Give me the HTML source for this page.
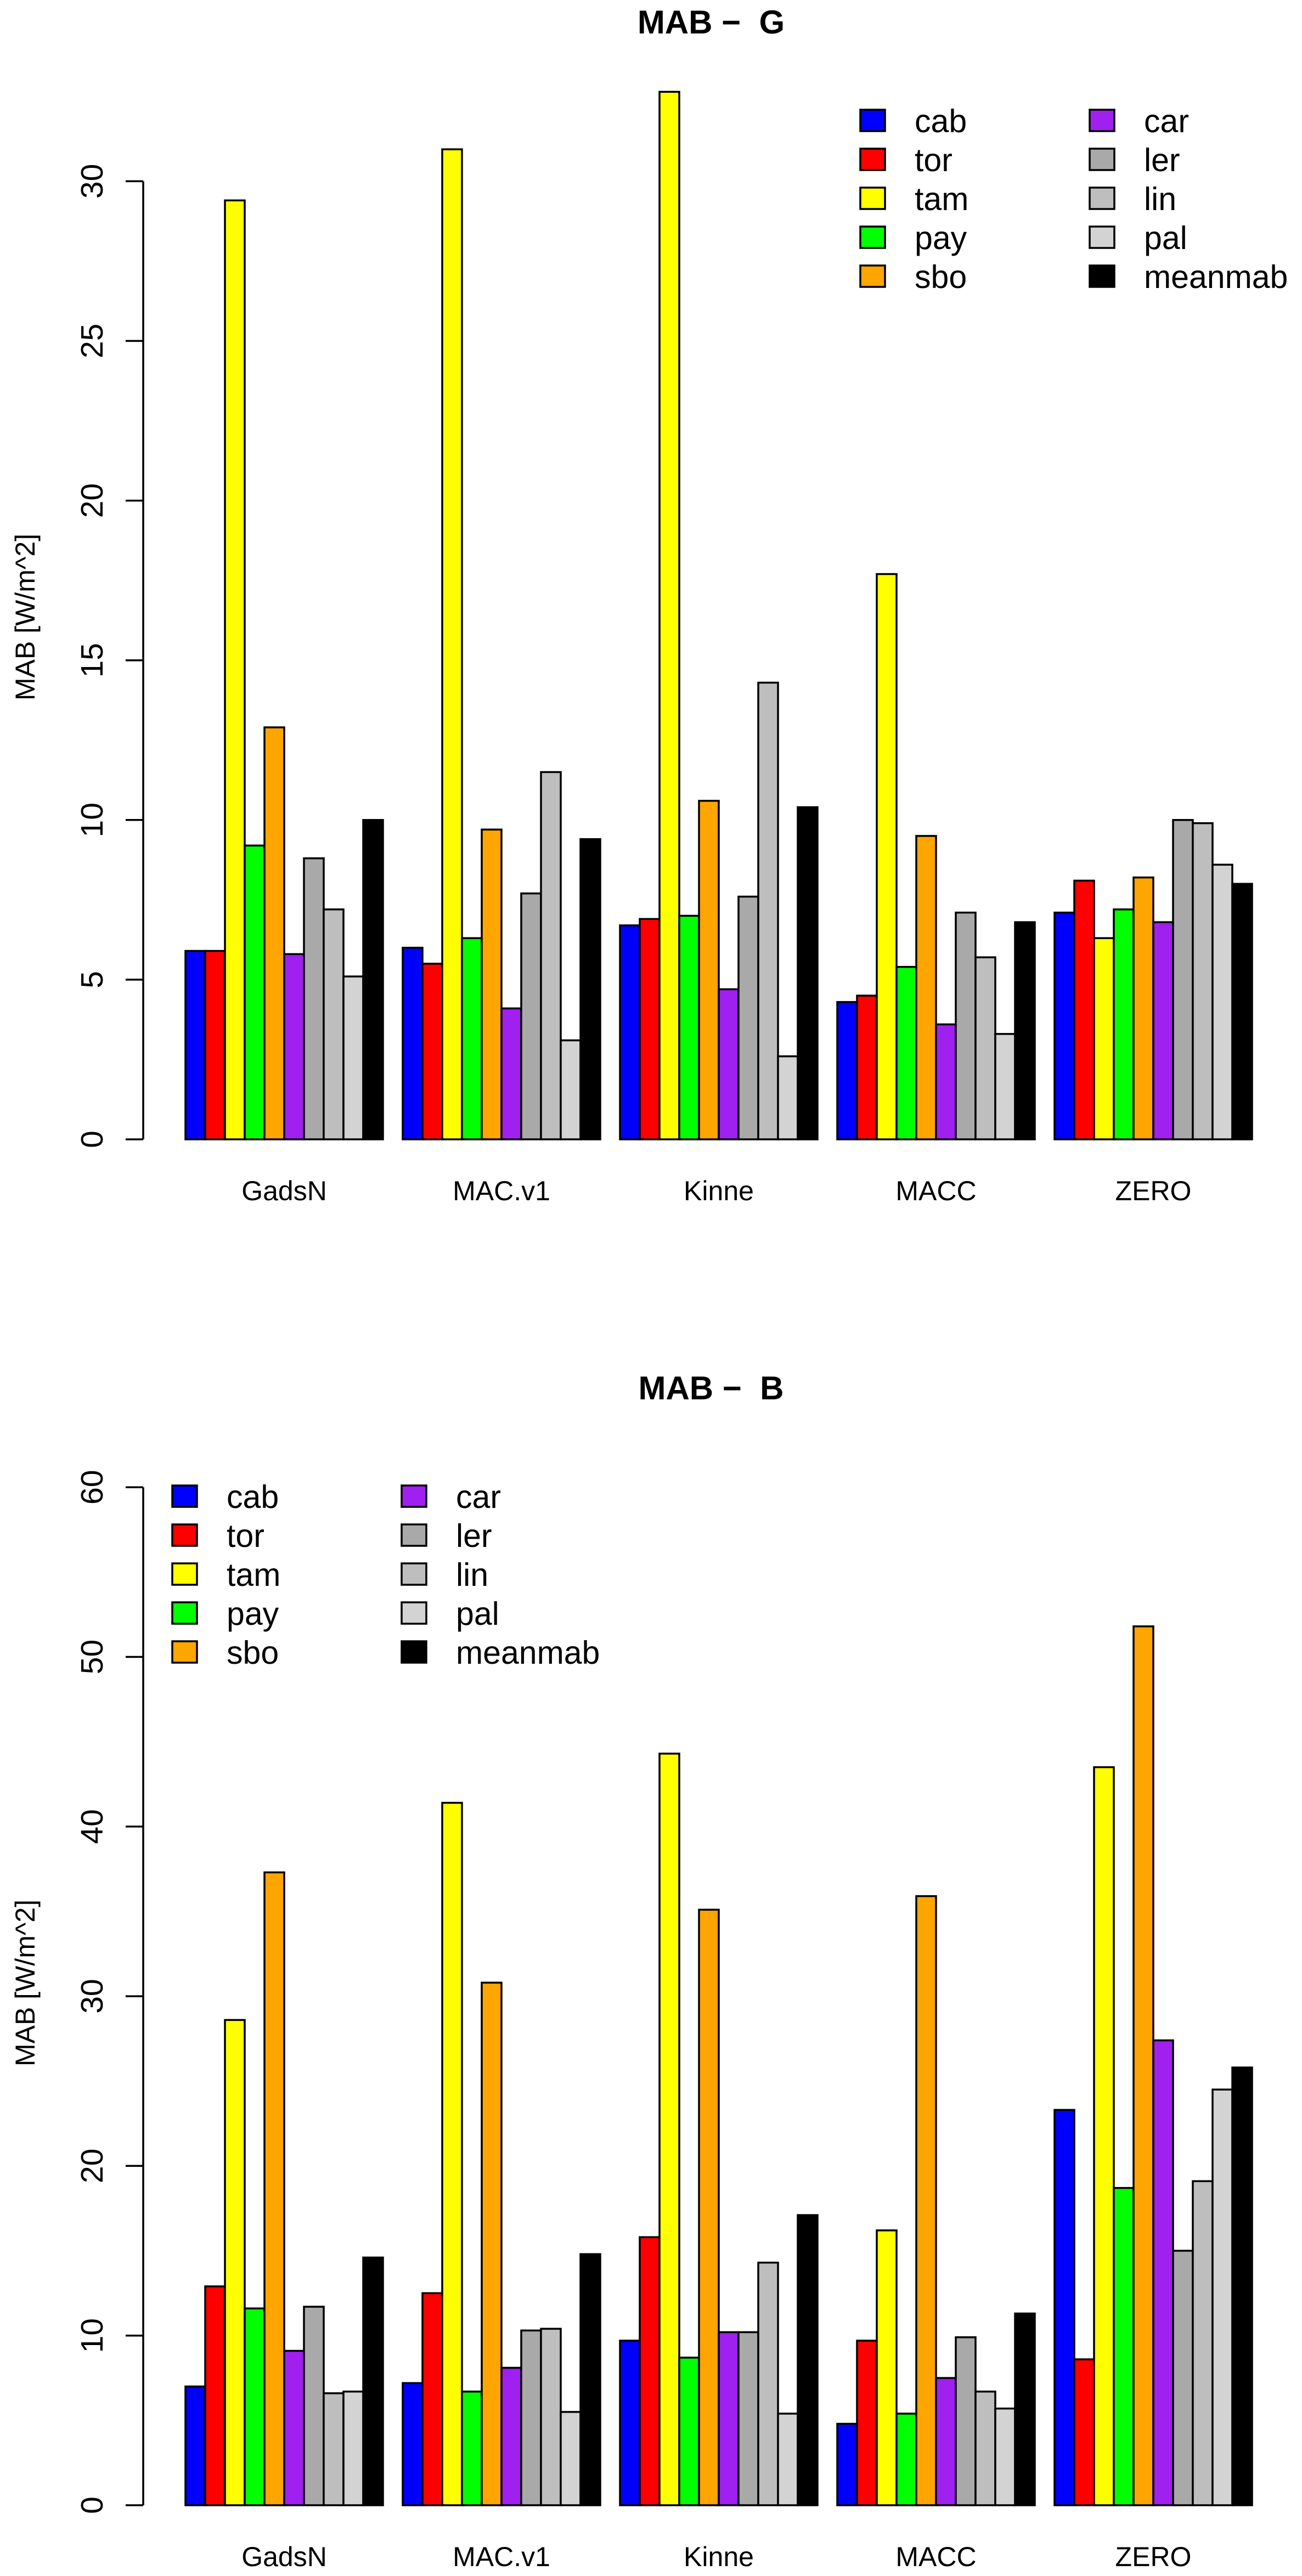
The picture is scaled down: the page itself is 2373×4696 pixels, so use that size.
<!DOCTYPE html>
<html><head><meta charset="utf-8"><style>
html,body{margin:0;padding:0;background:#fff;}
svg{display:block;font-family:"Liberation Sans",Arial,sans-serif;}
</style></head><body>
<svg id="chart" width="2373" height="4696" viewBox="0 0 2373 4696" xmlns="http://www.w3.org/2000/svg"></svg>
<script>
const categories = ["GadsN","MAC.v1","Kinne","MACC","ZERO"];
const seriesNames = ["cab","tor","tam","pay","sbo","car","ler","lin","pal","meanmab"];
const seriesColors = ["#0000FF","#FF0000","#FFFF00","#00FF00","#FFA500","#A020F0","#A9A9A9","#BEBEBE","#D3D3D3","#000000"];
// values[group][series]
const valuesG = [
  [5.9,5.9,29.4,9.2,12.9,5.8,8.8,7.2,5.1,10.0],
  [6.0,5.5,31.0,6.3,9.7,4.1,7.7,11.5,3.1,9.4],
  [6.7,6.9,32.8,7.0,10.6,4.7,7.6,14.3,2.6,10.4],
  [4.3,4.5,17.7,5.4,9.5,3.6,7.1,5.7,3.3,6.8],
  [7.1,8.1,6.3,7.2,8.2,6.8,10.0,9.9,8.6,8.0]
];
const valuesB = [
  [7.0,12.9,28.6,11.6,37.3,9.1,11.7,6.6,6.7,14.6],
  [7.2,12.5,41.4,6.7,30.8,8.1,10.3,10.4,5.5,14.8],
  [9.7,15.8,44.3,8.7,35.1,10.2,10.2,14.3,5.4,17.1],
  [4.8,9.7,16.2,5.4,35.9,7.5,9.9,6.7,5.7,11.3],
  [23.3,8.6,43.5,18.7,51.8,27.4,15.0,19.1,24.5,25.8]
];
const ticksG = [0,5,10,15,20,25,30];
const ticksB = [0,10,20,30,40,50,60];

const NS = "http://www.w3.org/2000/svg";
const svg = document.getElementById("chart");
function mk(tag, attrs, parent){
  const e = document.createElementNS(NS, tag);
  for (const k in attrs) e.setAttribute(k, attrs[k]);
  (parent||svg).appendChild(e);
  return e;
}

function drawPanel(cfg){
  const g = mk("g", {});
  
  
  const y0 = cfg.y0, ppu = cfg.ppu;
  const yScale = v => y0 - v*ppu;
  const barW = 36, x0 = 338;
  const xBar = (gi, si) => x0 + (gi*11 + si)*barW;

  const t = mk("text", {x:1296, y:cfg.titleY, "text-anchor":"middle", "font-size":60, "font-weight":"bold", style:"white-space:pre"}, g);
  t.textContent = cfg.title;
  
  

  const ticks = cfg.ticks;
  const axis = mk("line", {x1:261, x2:261, y1:yScale(ticks[0]), y2:yScale(ticks[ticks.length-1]), stroke:"#000","stroke-width":3.5}, g);
  
  
  ticks.forEach(v=>{
    const yy = yScale(v);
    const tk = mk("line", {x1:229, x2:261, y1:yy, y2:yy, stroke:"#000","stroke-width":3.5}, g);
    
    
    const lb = mk("text", {x:0, y:0, "text-anchor":"middle", "font-size":57, transform:`translate(187,${yy}) rotate(-90)`}, g);
    lb.textContent = v;
    
    
  });
  const yt = mk("text", {x:0, y:0, "text-anchor":"middle", "font-size":50, transform:`translate(63,${cfg.ytitleY}) rotate(-90)`}, g);
  yt.textContent = "MAB [W/m^2]";
  
  

  cfg.values.forEach((grp, gi)=>{
    grp.forEach((v, si)=>{
      const r = mk("rect", {x:xBar(gi,si), y:yScale(v), width:barW, height:v*ppu, fill:seriesColors[si], stroke:"#000","stroke-width":3.5}, g);
      
      
    });
    const cl = mk("text", {x:xBar(gi,0)+5*barW, y:cfg.xlabY, "text-anchor":"middle", "font-size":50}, g);
    cl.textContent = categories[gi];
    
    
  });

  seriesNames.forEach((n, i)=>{
    const col = Math.floor(i/5), row = i%5;
    const bx = cfg.legX + col*418, cy = cfg.legY + row*71;
    const sw = mk("rect", {x:bx, y:cy-20, width:45, height:39, fill:seriesColors[i], stroke:"#000","stroke-width":3.5}, g);
    
    
    const lt = mk("text", {x:bx+99, y:cy+21, "font-size":59}, g);
    lt.textContent = n;
    
    
  });
}

drawPanel({name:"panel-g", title:"MAB \u2212  G", titleY:61, y0:2077, ppu:58.22, ticks:ticksG, values:valuesG, ytitleY:1125, xlabY:2188, legX:1568, legY:220});
drawPanel({name:"panel-b", title:"MAB \u2212  B", titleY:2551, y0:4567, ppu:30.93, ticks:ticksB, values:valuesB, ytitleY:3615, xlabY:4678, legX:314, legY:2728});
</script>
</body></html>
